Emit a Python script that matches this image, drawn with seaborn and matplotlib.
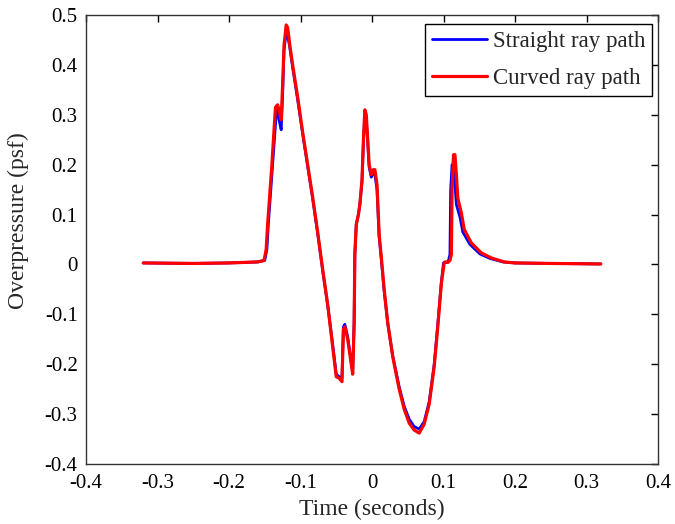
import numpy as np
import pandas as pd
import matplotlib
matplotlib.use("Agg")
import matplotlib.pyplot as plt
import seaborn as sns

# ---- data ----
t_curved = [-0.320, -0.250, -0.200, -0.160, -0.151, -0.148, -0.146, -0.143, -0.140,
            -0.137, -0.135, -0.132, -0.130, -0.127, -0.125, -0.123, -0.120, -0.118,
            -0.115, -0.111, -0.104, -0.097, -0.090, -0.083, -0.076, -0.069, -0.062,
            -0.055, -0.050, -0.046, -0.042, -0.040, -0.038, -0.034, -0.030, -0.027,
            -0.025, -0.024, -0.022, -0.019, -0.017, -0.014, -0.012, -0.010, -0.008,
            -0.006, -0.004, -0.001, 0.002, 0.004, 0.007, 0.010, 0.013, 0.017, 0.022,
            0.029, 0.038, 0.045, 0.052, 0.059, 0.066, 0.073, 0.080, 0.087, 0.092,
            0.097, 0.101, 0.103, 0.106, 0.109, 0.111, 0.112, 0.114, 0.116, 0.118,
            0.120, 0.125, 0.129, 0.139, 0.153, 0.167, 0.185, 0.200, 0.250, 0.320]
p_curved = [0.003, 0.002, 0.003, 0.005, 0.008, 0.030, 0.080, 0.140, 0.200,
            0.270, 0.315, 0.320, 0.310, 0.290, 0.360, 0.440, 0.480, 0.475,
            0.440, 0.400, 0.336, 0.265, 0.200, 0.135, 0.065, -0.010, -0.080,
            -0.165, -0.225, -0.228, -0.235, -0.130, -0.125, -0.150, -0.190, -0.220,
            -0.120, 0.020, 0.080, 0.100, 0.120, 0.170, 0.250, 0.310, 0.300,
            0.250, 0.200, 0.180, 0.190, 0.190, 0.160, 0.060, 0.015, -0.050, -0.117,
            -0.185, -0.250, -0.290, -0.318, -0.332, -0.338, -0.320, -0.280, -0.205, -0.125,
            -0.038, 0.003, 0.005, 0.004, 0.008, 0.020, 0.150, 0.220, 0.220, 0.180,
            0.133, 0.103, 0.070, 0.043, 0.023, 0.013, 0.005, 0.003, 0.002, 0.001]

t_straight = [-0.320, -0.250, -0.200, -0.160, -0.150, -0.147, -0.145, -0.142, -0.139,
              -0.136, -0.134, -0.132, -0.130, -0.127, -0.125, -0.123, -0.120, -0.118,
              -0.115, -0.111, -0.104, -0.097, -0.090, -0.083, -0.076, -0.069, -0.062,
              -0.055, -0.050, -0.046, -0.042, -0.040, -0.038, -0.034, -0.030, -0.027,
              -0.025, -0.024, -0.022, -0.019, -0.017, -0.014, -0.012, -0.010, -0.008,
              -0.006, -0.004, -0.001, 0.002, 0.004, 0.007, 0.010, 0.013, 0.017, 0.022,
              0.029, 0.038, 0.045, 0.052, 0.059, 0.066, 0.073, 0.080, 0.087, 0.092,
              0.097, 0.100, 0.102, 0.105, 0.107, 0.109, 0.110, 0.112, 0.114, 0.116,
              0.118, 0.123, 0.127, 0.137, 0.151, 0.165, 0.183, 0.200, 0.250, 0.320]
p_straight = [0.003, 0.002, 0.003, 0.005, 0.008, 0.030, 0.080, 0.140, 0.200,
              0.260, 0.300, 0.310, 0.290, 0.270, 0.340, 0.430, 0.465, 0.460,
              0.435, 0.395, 0.330, 0.262, 0.197, 0.132, 0.062, -0.012, -0.082,
              -0.160, -0.220, -0.225, -0.228, -0.125, -0.120, -0.145, -0.185, -0.215,
              -0.115, 0.020, 0.080, 0.100, 0.120, 0.165, 0.245, 0.300, 0.290,
              0.245, 0.195, 0.175, 0.185, 0.180, 0.150, 0.055, 0.010, -0.053, -0.118,
              -0.183, -0.245, -0.284, -0.310, -0.325, -0.330, -0.315, -0.275, -0.200, -0.120,
              -0.035, 0.003, 0.005, 0.004, 0.008, 0.020, 0.150, 0.200, 0.190, 0.160,
              0.120, 0.095, 0.065, 0.040, 0.021, 0.012, 0.005, 0.003, 0.002, 0.001]

series_names = ["Straight ray path", "Curved ray path"]
series_colors = ["#0000ff", "#ff0000"]
x_ticks = [-0.4, -0.3, -0.2, -0.1, 0, 0.1, 0.2, 0.3, 0.4]
y_ticks = [-0.4, -0.3, -0.2, -0.1, 0, 0.1, 0.2, 0.3, 0.4, 0.5]

df = pd.concat([
    pd.DataFrame({"t": t_straight, "p": p_straight, "series": series_names[0]}),
    pd.DataFrame({"t": t_curved, "p": p_curved, "series": series_names[1]}),
], ignore_index=True)

sns.set_style("white")
plt.rcParams["font.family"] = ["Liberation Serif", "DejaVu Serif"]

W, H = 675, 524
fig = plt.figure(figsize=(W / 100, H / 100), dpi=100)
ax = fig.add_axes([86 / W, 1 - 464 / H, (658 - 86) / W, (464 - 15) / H])

for name, color, lw in zip(series_names, series_colors, [2.0, 2.3]):
    sns.lineplot(data=df[df["series"] == name], x="t", y="p", sort=False,
                 estimator=None, color=color, linewidth=lw, label=name, ax=ax)

ax.set_xlim(-0.4, 0.4)
ax.set_ylim(-0.4, 0.5)
ax.set_xticks(x_ticks)
ax.set_yticks(y_ticks)
ax.set_xticklabels([f"{v:g}" for v in x_ticks])
ax.set_yticklabels([f"{v:g}" for v in y_ticks])
ax.tick_params(direction="in", length=5, width=1, top=True, right=True,
               labelsize=15, colors="#000000", pad=6)
ax.tick_params(axis="x", pad=7)
for s in ax.spines.values():
    s.set_color("#333333")
    s.set_linewidth(1)
    s.set_visible(True)

ax.set_xlabel("Time (seconds)", fontsize=17)
ax.set_ylabel("Overpressure (psf)", fontsize=17)
ax.xaxis.set_label_coords(0.5, (464 - 499) / 449)
ax.yaxis.set_label_coords((29 - 86) / 572, (464 - 221) / 449)

leg = ax.legend(loc="upper right", bbox_to_anchor=(652 / W, 1 - 24 / H),
                bbox_transform=fig.transFigure, fontsize=16.5, frameon=True,
                fancybox=False, edgecolor="#000000", framealpha=1, borderpad=0.3,
                handlelength=2.4, handletextpad=0.25, borderaxespad=0.0,
                labelspacing=0.7)
leg.get_frame().set_linewidth(1)

fig.savefig("out.png", dpi=100)
